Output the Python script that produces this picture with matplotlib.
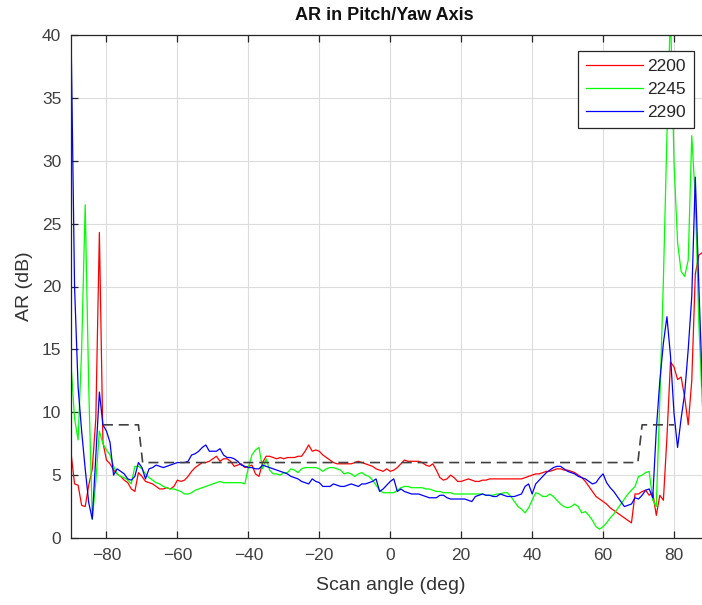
import numpy as np
import matplotlib
matplotlib.use("Agg")
import matplotlib.pyplot as plt

# ---- data ----
angles = list(range(-90, 89))  # scan angle (deg), 1-degree steps

ar_2200 = [
    6.8, 4.3, 4.2, 2.6, 2.5, 4.2, 5.5, 9.5, 24.3, 7.6,
    6.2, 5.9, 5.4, 5.1, 4.9, 4.6, 4.4, 3.9, 3.7, 5.2,
    4.9, 4.5, 4.4, 4.3, 4.1, 3.9, 3.9, 4.0, 3.9, 4.1,
    4.6, 4.5, 4.6, 4.9, 5.3, 5.6, 5.8, 6.0, 6.0, 6.1,
    6.3, 6.5, 6.1, 6.3, 6.3, 6.1, 5.7, 5.8, 5.9, 5.6,
    5.7, 5.8, 5.1, 4.9, 6.0, 6.5, 6.5, 6.4, 6.3, 6.4,
    6.3, 6.4, 6.4, 6.4, 6.5, 6.5, 6.9, 7.4, 6.9, 7.0,
    6.9, 6.6, 6.4, 6.2, 6.0, 5.9, 5.9, 5.9, 5.9, 5.9,
    6.0, 6.1, 6.0, 5.9, 5.8, 5.7, 5.5, 5.4, 5.3, 5.5,
    5.3, 5.4, 5.6, 5.9, 6.2, 6.1, 6.1, 6.1, 6.1, 6.0,
    5.8, 5.7, 5.9, 5.4, 4.8, 4.6, 4.7, 5.0, 4.8, 4.5,
    4.5, 4.6, 4.7, 4.6, 4.5, 4.5, 4.6, 4.6, 4.7, 4.7,
    4.7, 4.7, 4.7, 4.7, 4.7, 4.7, 4.7, 4.7, 4.8, 4.9,
    5.0, 5.1, 5.1, 5.2, 5.3, 5.3, 5.4, 5.5, 5.5, 5.4,
    5.4, 5.3, 5.2, 5.0, 4.8, 4.5, 4.1, 3.7, 3.3, 3.1,
    2.9, 2.7, 2.4, 2.2, 2.0, 1.8, 1.6, 1.4, 1.2, 3.5,
    3.5, 3.7, 3.8, 3.4, 3.6, 1.8, 3.4, 3.0, 8.0, 14.0,
    13.6, 12.6, 12.8, 11.2, 9.0, 12.5, 21.0, 22.5, 22.7,
]

ar_2245 = [
    13.9, 9.5, 7.8, 15.0, 26.5, 12.0, 1.5, 4.5, 8.5, 7.5,
    7.0, 6.6, 5.7, 5.1, 4.9, 4.8, 4.6, 4.3, 5.7, 5.7,
    5.5, 5.1, 4.8, 4.6, 4.4, 4.3, 4.1, 4.0, 3.9, 3.9,
    3.8, 3.7, 3.5, 3.5, 3.6, 3.8, 3.9, 4.0, 4.1, 4.2,
    4.3, 4.4, 4.5, 4.4, 4.4, 4.4, 4.4, 4.4, 4.4, 4.3,
    5.6, 6.6, 7.0, 7.2, 5.5, 6.3, 5.4, 5.1, 5.1, 5.0,
    5.2, 5.2, 5.5, 5.4, 5.2, 5.5, 5.6, 5.6, 5.6, 5.6,
    5.5, 5.3, 5.5, 5.6, 5.6, 5.5, 5.4, 5.1, 5.2, 5.1,
    4.9, 5.1, 5.2, 5.0, 4.9, 4.6, 4.2, 3.8, 3.6, 3.6,
    3.6, 3.6, 3.8, 4.0, 4.1, 4.1, 4.0, 4.0, 4.0, 4.0,
    3.9, 3.9, 3.8, 3.7, 3.7, 3.6, 3.6, 3.6, 3.5, 3.5,
    3.5, 3.5, 3.5, 3.5, 3.5, 3.5, 3.5, 3.4, 3.4, 3.4,
    3.5, 3.5, 3.6, 3.6, 3.3, 2.9, 2.5, 2.3, 2.0, 2.4,
    3.0, 3.6, 3.5, 3.3, 3.3, 3.5, 3.3, 3.0, 2.7, 2.5,
    2.4, 2.5, 2.7, 2.5, 2.0, 2.1, 1.8, 1.4, 0.9, 0.7,
    0.9, 1.2, 1.6, 1.9, 2.3, 2.7, 3.1, 3.5, 3.8, 4.1,
    4.9, 5.0, 5.2, 5.3, 3.0, 2.5, 11.0, 20.5, 32.0, 42.0,
    29.8, 23.5, 21.2, 20.8, 22.1, 32.0, 27.0, 17.0, 10.5,
]

ar_2290 = [
    40.5, 20.0, 12.0, 8.5, 5.5, 2.8, 1.5, 6.5, 11.6, 9.0,
    8.5, 7.6, 5.0, 5.5, 5.3, 5.1, 4.7, 4.6, 4.9, 6.0,
    5.6, 4.7, 5.5, 5.6, 5.8, 5.7, 5.6, 5.7, 5.8, 5.9,
    6.0, 6.0, 6.0, 6.1, 6.6, 6.7, 6.9, 7.2, 7.4, 6.9,
    6.9, 6.9, 7.1, 6.6, 6.4, 6.4, 6.3, 6.1, 5.8, 5.7,
    5.6, 5.6, 5.5, 5.5, 5.8, 5.7, 5.6, 5.5, 5.4, 5.3,
    5.2, 5.1, 4.9, 4.8, 4.7, 4.5, 4.4, 4.3, 4.7, 4.5,
    4.4, 4.1, 4.1, 4.1, 4.3, 4.2, 4.1, 4.1, 4.2, 4.3,
    4.2, 4.1, 4.3, 4.3, 4.4, 4.5, 4.7, 3.7, 3.9, 4.2,
    4.5, 4.7, 3.7, 3.9, 3.7, 3.6, 3.5, 3.5, 3.5, 3.4,
    3.3, 3.2, 3.2, 3.2, 3.4, 3.4, 3.2, 3.1, 3.1, 3.1,
    3.1, 3.1, 3.0, 2.9, 3.3, 3.4, 3.5, 3.4, 3.4, 3.3,
    3.3, 3.5, 3.4, 3.3, 3.3, 3.3, 3.4, 3.5, 4.1, 4.3,
    3.5, 4.3, 4.6, 4.9, 5.2, 5.4, 5.6, 5.7, 5.7, 5.5,
    5.3, 5.2, 5.1, 4.9, 4.8, 4.7, 4.5, 4.3, 4.4, 4.8,
    5.1, 4.4, 4.0, 3.7, 3.3, 2.9, 2.5, 2.6, 2.7, 3.2,
    3.1, 3.4, 3.8, 3.9, 3.2, 8.6, 12.5, 15.5, 17.6, 14.5,
    9.9, 7.2, 9.5, 11.5, 15.0, 19.2, 28.7, 20.0, 12.0,
]

mask_x = [-81, -71, -69.8, 69.8, 71, 80]
mask_y = [9, 9, 6, 6, 9, 9]

series_labels = ["2200", "2245", "2290"]
series_colors = ["#ff0000", "#00ff00", "#0000ff"]

title = "AR in Pitch/Yaw Axis"
xlabel = "Scan angle (deg)"
ylabel = "AR (dB)"
xticks = [-80, -60, -40, -20, 0, 20, 40, 60, 80]
yticks = [0, 5, 10, 15, 20, 25, 30, 35, 40]

# ---- plot ----
plt.rcParams['font.family'] = ['Liberation Sans', 'DejaVu Sans']
W, H = 702, 605
fig = plt.figure(figsize=(W / 100, H / 100), dpi=100)
left, right, top, bottom = 71, 709.5, 35, 538
ax = fig.add_axes([left / W, 1 - bottom / H, (right - left) / W, (bottom - top) / H])

for vals, lab, col in zip([ar_2200, ar_2245, ar_2290], series_labels, series_colors):
    ax.plot(angles, vals, color=col, lw=0.9, label=lab)

ax.plot(mask_x, mask_y, color="#404040", lw=1.2, dashes=(6, 3.5))

ax.set_xlim(-90, 90)
ax.set_ylim(0, 40)
ax.set_xticks(xticks)
ax.set_yticks(yticks)
ax.grid(True, color="#dcdcdc", lw=0.8)
ax.set_axisbelow(True)

dark = "#262626"
for s in ax.spines.values():
    s.set_color(dark)
    s.set_linewidth(0.9)
ax.tick_params(direction="in", length=5, width=0.9, color=dark, labelcolor="#404040",
               labelsize=12.5, top=True, right=False, pad=7)

ax.set_title(title, fontsize=13, fontweight="bold", color="#111111", pad=11,
             x=(384 - left) / (right - left))
ax.set_xlabel(xlabel, fontsize=14, color="#333333", labelpad=10)
ax.set_ylabel(ylabel, fontsize=14, color="#333333", labelpad=6)

leg = ax.legend(loc="upper right", bbox_to_anchor=(694 / W, 1 - 51 / H),
                bbox_transform=fig.transFigure, fancybox=False, framealpha=1,
                edgecolor=dark, fontsize=12.5, handlelength=3.3, handletextpad=0.25,
                labelspacing=0.45, borderpad=0.45, borderaxespad=0)
leg.get_frame().set_linewidth(0.9)
for t in leg.get_texts():
    t.set_color("#262626")

fig.savefig("out.png", dpi=100)
